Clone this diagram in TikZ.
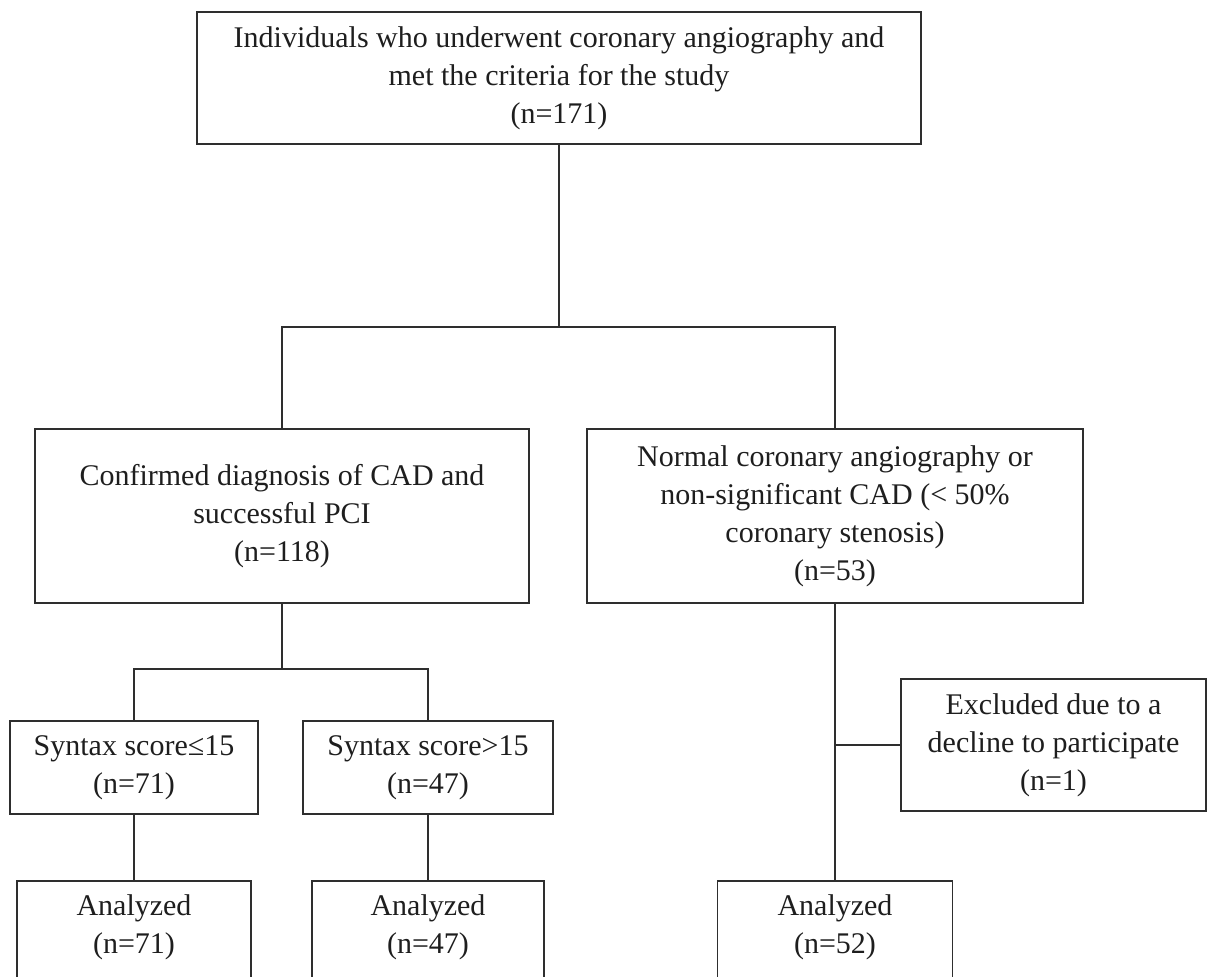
\documentclass[tikz,border=0pt]{standalone}
\usepackage{fontspec}
\setmainfont{Liberation Serif}
\usepackage{tikz}
\definecolor{lineGray}{HTML}{2E2E2E}
\definecolor{textBlack}{HTML}{1E1E1E}

\begin{document}
\begin{tikzpicture}[x=1pt,y=-1pt,
  box/.style={draw=lineGray,line width=1.6pt,align=center,inner sep=0pt,
    text=textBlack,font=\fontsize{30}{38}\selectfont},
  anabox/.style={box,anchor=north,inner ysep=14pt,text height=59pt,text depth=50pt},
  link/.style={draw=lineGray,line width=1.6pt}]
\useasboundingbox (0,0) rectangle (1208,977);
% kutular
\node[box,minimum width=724pt,minimum height=132pt] (all) at (559,78)
  {Individuals who underwent coronary angiography and\\met the criteria for the study\\(n=171)};
\node[box,minimum width=494pt,minimum height=174pt] (cad) at (282,516)
  {Confirmed diagnosis of CAD and\\successful PCI\\(n=118)};
\node[box,minimum width=496pt,minimum height=174pt] (normal) at (835,516)
  {Normal coronary angiography or\\non-significant CAD (< 50\%\\coronary stenosis)\\(n=53)};
\node[box,minimum width=248pt,minimum height=93pt] (lowsyn) at (134,767.5)
  {Syntax score≤15\\(n=71)};
\node[box,minimum width=250pt,minimum height=93pt] (highsyn) at (428,767.5)
  {Syntax score>15\\(n=47)};
\node[box,minimum width=305pt,minimum height=132pt] (excl) at (1053.5,745)
  {Excluded due to a\\decline to participate\\(n=1)};
\node[anabox,minimum width=234pt] (analow) at (134,880) {Analyzed\\(n=71)};
\node[anabox,minimum width=232pt] (anahigh) at (428,880) {Analyzed\\(n=47)};
\node[anabox,minimum width=235pt] (ananormal) at (835,880) {Analyzed\\(n=52)};
% baglantilar
\coordinate (j1) at (559,327);
\coordinate (j2) at (282,669);
\draw[link] (all.south) -- (j1);
\draw[link] (cad.north) -- (cad.north |- j1) -- (normal.north |- j1) -- (normal.north);
\draw[link] (cad.south) -- (j2);
\draw[link] (lowsyn.north) -- (lowsyn.north |- j2) -- (highsyn.north |- j2) -- (highsyn.north);
\draw[link] (lowsyn.south) -- (analow.north);
\draw[link] (highsyn.south) -- (anahigh.north);
\draw[link] (normal.south) -- (ananormal.north);
\draw[link] (normal.south |- excl.west) -- (excl.west);
\end{tikzpicture}
\end{document}
